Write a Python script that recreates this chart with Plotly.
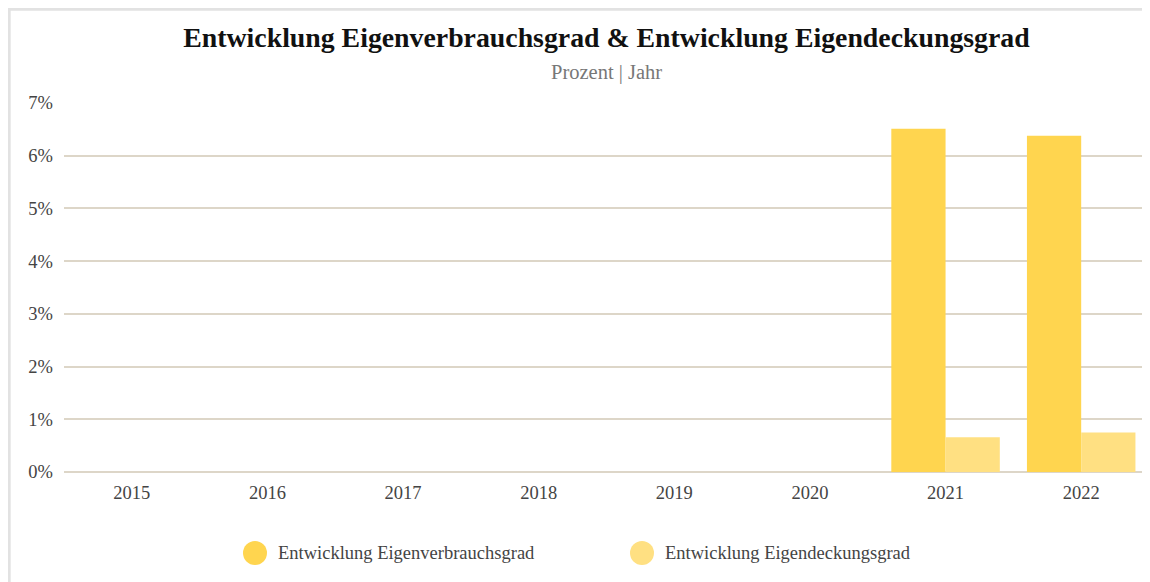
import plotly.graph_objects as go

years = ["2015", "2016", "2017", "2018", "2019", "2020", "2021", "2022"]
eigenverbrauch = [0, 0, 0, 0, 0, 0, 6.51, 6.38]
eigendeckung = [0, 0, 0, 0, 0, 0, 0.66, 0.75]
series_names = ["Entwicklung Eigenverbrauchsgrad", "Entwicklung Eigendeckungsgrad"]
colors = ["#FFD54F", "#FFE082"]
y_ticks = [0, 1, 2, 3, 4, 5, 6, 7]
y_tick_labels = [f"{v}%" for v in y_ticks]

OFF = 8  # page body margin
W, H = 1142, 574
L, R, T, B = 56, 1, 95, 110
pw, ph = W - L - R, H - T - B

def px_x(x):  # page pixel -> paper
    return (x - OFF - L) / pw

def px_y(y):
    return (H - B - (y - OFF)) / ph

FONT = "Liberation Serif"

fig = go.Figure()
for name, vals, col in zip(series_names, [eigenverbrauch, eigendeckung], colors):
    fig.add_trace(go.Bar(x=years, y=vals, name=name, marker=dict(color=col, line=dict(width=0)),
                         showlegend=False))

shapes = [
    dict(type="line", xref="paper", yref="paper", x0=px_x(9.2), x1=px_x(9.2), y0=px_y(600), y1=px_y(7),
         line=dict(color="#e2e2e2", width=3)),
    dict(type="line", xref="paper", yref="paper", x0=px_x(7), x1=px_x(1160), y0=px_y(9.2), y1=px_y(9.2),
         line=dict(color="#e2e2e2", width=3)),
]
annotations = [
    dict(text="Prozent | Jahr", xref="paper", yref="paper", x=0.5, y=px_y(72), showarrow=False,
         font=dict(family=FONT, size=20.5, color="#777777"), xanchor="center", yanchor="middle"),
]
legend_pos = [(255, 553), (642, 553)]
for (cx, cy), name, col in zip(legend_pos, series_names, colors):
    shapes.append(dict(type="circle", xref="paper", yref="paper", x0=px_x(cx - 12), x1=px_x(cx + 12),
                       y0=px_y(cy + 12), y1=px_y(cy - 12), fillcolor=col, line=dict(width=0)))
    annotations.append(dict(text=name, xref="paper", yref="paper", x=px_x(cx + 21), y=px_y(cy), showarrow=False,
                            xanchor="left", yanchor="middle", font=dict(family=FONT, size=18.5, color="#444444")))

fig.update_layout(
    width=W, height=H,
    margin=dict(l=L, r=R, t=T, b=B),
    paper_bgcolor="white", plot_bgcolor="white",
    barmode="group", bargap=0.2, bargroupgap=0,
    title=dict(text="<b>Entwicklung Eigenverbrauchsgrad & Entwicklung Eigendeckungsgrad</b>",
               x=0.5, xref="paper", xanchor="center", y=1 - (37 - OFF) / H, yanchor="middle",
               font=dict(family=FONT, size=27.8, color="#111111")),
    font=dict(family=FONT, size=18, color="#444444"),
    xaxis=dict(showgrid=False, showline=False, ticks="", tickfont=dict(size=18.5, color="#444444"),
               ticklabelstandoff=7),
    yaxis=dict(range=[0, 7], tickvals=y_ticks, ticktext=y_tick_labels, showgrid=True, gridcolor="#ddd6c8",
               gridwidth=1.5, zeroline=True, zerolinecolor="#ddd6c8", zerolinewidth=1.5, showline=False,
               tickfont=dict(size=18.5, color="#444444"), ticklabelstandoff=10),
    shapes=shapes, annotations=annotations,
)

fig.write_html("out.html")
